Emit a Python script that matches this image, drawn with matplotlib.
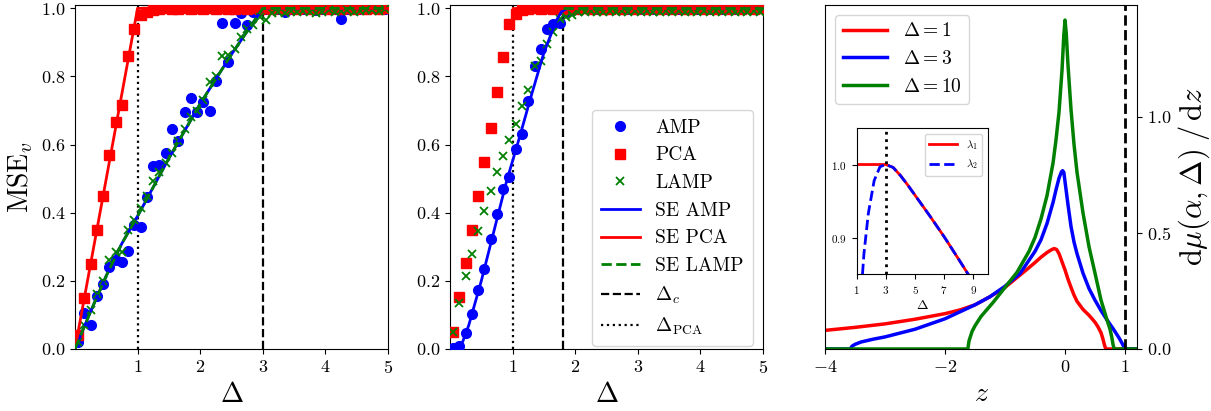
import matplotlib

matplotlib.use("Agg")
import matplotlib.pyplot as plt

plt.rcParams["font.family"] = "serif"
plt.rcParams["font.serif"] = ["cmr10", "DejaVu Serif"]
plt.rcParams["mathtext.fontset"] = "cm"
plt.rcParams["axes.formatter.use_mathtext"] = True

# noise grid shared by all finite-size experiments
DELTA = [0.05, 0.15, 0.25, 0.35, 0.45, 0.55, 0.65, 0.75, 0.85, 0.95,
         1.05, 1.15, 1.25, 1.35, 1.45, 1.55, 1.65, 1.75, 1.85, 1.95,
         2.05, 2.15, 2.25, 2.35, 2.45, 2.55, 2.65, 2.75, 2.85, 2.95,
         3.05, 3.15, 3.25, 3.35, 3.45, 3.55, 3.65, 3.75, 3.85, 3.95,
         4.05, 4.15, 4.25, 4.35, 4.45, 4.55, 4.65, 4.75, 4.85, 4.95]

# left panel
AMP_L = [0.02, 0.105, 0.07, 0.155, 0.19, 0.242, 0.262, 0.254, 0.289, 0.364,
         0.357, 0.447, 0.537, 0.54, 0.575, 0.645, 0.612, 0.696, 0.736, 0.696,
         0.726, 0.698, 0.788, 0.958, 0.843, 0.958, 0.987, 0.951, 0.99, 0.995,
         0.998, 0.997, 0.999, 0.99, 0.998, 1.0, 0.999, 0.998, 0.996, 0.999,
         1.0, 0.998, 0.969, 0.999, 1.0, 0.998, 0.999, 1.0, 0.999, 0.998]
PCA_L = [0.04, 0.15, 0.25, 0.35, 0.45, 0.57, 0.665, 0.715, 0.86, 0.94,
         0.98, 0.99, 0.995, 0.997, 1.0, 0.999, 0.998, 1.0, 0.999, 1.0,
         0.998, 1.0, 0.999, 1.0, 0.998, 0.999, 1.0, 0.999, 1.0, 0.998,
         1.0, 0.999, 1.0, 0.998, 1.0, 0.999, 1.0, 0.999, 0.998, 1.0,
         0.999, 1.0, 0.998, 1.0, 0.999, 1.0, 0.999, 1.0, 0.998, 1.0]
LAMP_L = [0.02, 0.07, 0.115, 0.16, 0.2, 0.26, 0.285, 0.285, 0.35, 0.38,
          0.415, 0.448, 0.492, 0.52, 0.545, 0.575, 0.612, 0.645, 0.68, 0.70,
          0.73, 0.785, 0.80, 0.86, 0.862, 0.88, 0.917, 0.94, 0.95, 0.975,
          0.965, 0.985, 0.99, 0.985, 0.992, 0.99, 0.993, 0.988, 0.985, 0.988,
          0.995, 0.99, 0.993, 0.995, 0.99, 0.993, 0.996, 0.995, 0.993, 0.997]
SE_AMP_L_X = [0.0, 0.25, 0.5, 0.75, 1.0, 1.5, 2.0, 2.5, 3.0, 5.0]
SE_AMP_L_Y = [0.0, 0.11, 0.215, 0.31, 0.39, 0.56, 0.72, 0.865, 1.0, 1.0]
SE_PCA_L_X = [0.0, 1.0, 5.0]
SE_PCA_L_Y = [0.0, 1.0, 1.0]
DC_L, DPCA = 3.0, 1.0

# middle panel
AMP_M = [0.003, 0.008, 0.047, 0.104, 0.174, 0.234, 0.323, 0.396, 0.47, 0.504,
         0.586, 0.63, 0.727, 0.832, 0.881, 0.938, 0.953, 0.956, 0.99, 0.995,
         0.998, 1.0, 0.999, 0.998, 1.0, 0.999, 1.0, 0.998, 0.999, 1.0,
         0.999, 1.0, 0.998, 1.0, 0.999, 1.0, 0.998, 0.999, 1.0, 0.999,
         1.0, 0.998, 1.0, 0.999, 1.0, 0.999, 0.998, 1.0, 0.999, 1.0]
PCA_M = [0.05, 0.152, 0.252, 0.35, 0.45, 0.548, 0.65, 0.754, 0.856, 0.954,
         0.983, 0.995, 0.998, 1.0, 0.999, 1.0, 0.998, 1.0, 0.999, 1.0,
         0.998, 1.0, 0.999, 1.0, 0.998, 0.999, 1.0, 0.999, 1.0, 0.998,
         1.0, 0.999, 1.0, 0.998, 1.0, 0.999, 1.0, 0.999, 0.998, 1.0,
         0.999, 1.0, 0.998, 1.0, 0.999, 1.0, 0.999, 1.0, 0.998, 1.0]
LAMP_M = [0.05, 0.135, 0.213, 0.28, 0.345, 0.405, 0.463, 0.52, 0.567, 0.613,
          0.66, 0.712, 0.76, 0.83, 0.845, 0.894, 0.93, 0.97, 0.975, 0.98,
          0.988, 0.99, 0.992, 0.99, 0.989, 0.991, 0.99, 0.992, 0.99, 0.991,
          0.99, 0.992, 0.99, 0.989, 0.991, 0.99, 0.992, 0.99, 0.991, 0.99,
          0.992, 0.99, 0.991, 0.99, 0.992, 0.99, 0.991, 0.99, 0.992, 0.99]
SE_AMP_M_X = [0.0, 0.1, 0.2, 0.3, 0.5, 0.7, 0.9, 1.1, 1.3, 1.5, 1.7, 1.78, 1.85, 1.9, 2.0, 5.0]
SE_AMP_M_Y = [0.0, 0.0, 0.02, 0.07, 0.2, 0.345, 0.49, 0.615, 0.745, 0.87, 0.965, 0.99, 0.998, 1.0, 1.0, 1.0]
SE_PCA_M_X = [1.0, 5.0]
SE_PCA_M_Y = [1.0, 1.0]
SE_LAMP_M_X = [1.8, 5.0]
SE_LAMP_M_Y = [1.0, 1.0]
DC_M = 1.8

# right panel: spectral densities
Z_D1 = [-4.0, -3.5, -3.0, -2.5, -2.0, -1.75, -1.5, -1.25, -1.0, -0.75, -0.6, -0.5, -0.4,
        -0.3, -0.22, -0.18, -0.14, -0.1, -0.05, 0.0, 0.05, 0.1, 0.15, 0.2, 0.3, 0.4, 0.5,
        0.55, 0.6, 0.63, 0.66, 0.68, 1.2]
MU_D1 = [0.08, 0.093, 0.108, 0.128, 0.152, 0.168, 0.19, 0.225, 0.265, 0.318, 0.35, 0.372, 0.395,
         0.415, 0.428, 0.432, 0.428, 0.41, 0.375, 0.34, 0.3, 0.265, 0.232, 0.205, 0.17, 0.145, 0.115,
         0.095, 0.07, 0.045, 0.015, 0.0, 0.0]
Z_D3 = [-4.0, -3.58, -3.55, -3.5, -3.4, -3.2, -3.0, -2.5, -2.0, -1.5, -1.25, -1.0, -0.75, -0.5,
        -0.4, -0.3, -0.2, -0.15, -0.1, -0.06, -0.04, -0.02, 0.0, 0.05, 0.1, 0.15, 0.2, 0.3, 0.4,
        0.5, 0.6, 0.7, 0.8, 0.9, 0.95, 0.99, 1.0, 1.2]
MU_D3 = [0.0, 0.0, 0.012, 0.02, 0.03, 0.042, 0.052, 0.085, 0.13, 0.19, 0.225, 0.27, 0.325, 0.42,
         0.47, 0.54, 0.63, 0.685, 0.735, 0.762, 0.767, 0.76, 0.72, 0.62, 0.527, 0.46, 0.41, 0.326, 0.26,
         0.21, 0.165, 0.125, 0.088, 0.048, 0.025, 0.005, 0.0, 0.0]
Z_D10 = [-4.0, -1.62, -1.6, -1.55, -1.5, -1.4, -1.2, -1.0, -0.8, -0.6, -0.5, -0.4, -0.3, -0.2,
         -0.15, -0.1, -0.05, -0.02, 0.0, 0.02, 0.05, 0.1, 0.15, 0.2, 0.3, 0.4, 0.5, 0.6, 0.7,
         0.75, 0.78, 0.8, 0.82, 1.2]
MU_D10 = [0.0, 0.0, 0.035, 0.075, 0.1, 0.14, 0.2, 0.265, 0.33, 0.42, 0.48, 0.56, 0.66, 0.80,
          0.9, 1.02, 1.2, 1.35, 1.415, 1.36, 1.22, 1.03, 0.88, 0.76, 0.585, 0.44, 0.326, 0.21, 0.125,
          0.085, 0.05, 0.02, 0.0, 0.0]
Z_EDGE = 1.0

# inset: top eigenvalues
LAM1_X = [1.0, 2.0, 3.0, 3.5, 4.0, 4.5, 5.0, 6.0, 7.0, 8.0, 8.7]
LAM1_Y = [1.0, 1.0, 1.0, 0.996, 0.985, 0.972, 0.958, 0.93, 0.901, 0.87, 0.848]
LAM2_X = [1.4, 1.5, 1.8, 2.2, 2.6, 3.0, 3.5, 4.0, 4.5, 5.0, 6.0, 7.0, 8.0, 8.7]
LAM2_Y = [0.85, 0.878, 0.933, 0.978, 0.997, 1.0, 0.996, 0.985, 0.972, 0.958, 0.93, 0.901, 0.87, 0.848]
DELTA_STAR = 3.0

fig = plt.figure(figsize=(12.11, 4.11), dpi=100)
ax1 = fig.add_axes([0.0619, 0.1509, 0.2585, 0.837])
ax2 = fig.add_axes([0.3716, 0.1509, 0.2585, 0.837])
ax3 = fig.add_axes([0.6813, 0.1509, 0.2576, 0.837])
ins = fig.add_axes([0.7074, 0.3333, 0.1084, 0.3552])


def scatter_panel(ax, amp, pca, lamp):
    ax.plot(DELTA, amp, "o", color="blue", ms=7, label="AMP", zorder=3)
    ax.plot(DELTA, pca, "s", color="red", ms=7.5, label="PCA", zorder=3)
    ax.plot(DELTA, lamp, "x", color="green", ms=6, mew=1.3, label="LAMP", zorder=3)


scatter_panel(ax1, AMP_L, PCA_L, LAMP_L)
ax1.plot(SE_AMP_L_X, SE_AMP_L_Y, "-", color="blue", lw=2, zorder=4)
ax1.plot(SE_PCA_L_X, SE_PCA_L_Y, "-", color="red", lw=2, zorder=4)
ax1.plot(SE_AMP_L_X, SE_AMP_L_Y, "--", color="green", lw=2, zorder=4)
ax1.axvline(DC_L, color="black", ls="--", lw=1.6)
ax1.axvline(DPCA, color="black", ls=":", lw=1.6)
ax1.set_ylabel(r"$\mathrm{MSE}_v$", fontsize=20)

scatter_panel(ax2, AMP_M, PCA_M, LAMP_M)
ax2.plot(SE_AMP_M_X, SE_AMP_M_Y, "-", color="blue", lw=2, zorder=4, label="SE AMP")
ax2.plot(SE_PCA_M_X, SE_PCA_M_Y, "-", color="red", lw=2, zorder=4, label="SE PCA")
ax2.plot(SE_LAMP_M_X, SE_LAMP_M_Y, "--", color="green", lw=2, zorder=4, label="SE LAMP")
ax2.axvline(DC_M, color="black", ls="--", lw=1.6, label=r"$\Delta_c$")
ax2.axvline(DPCA, color="black", ls=":", lw=1.6, label=r"$\Delta_{\rm PCA}$")
ax2.legend(loc="lower right", bbox_to_anchor=(0.967, 0.009), borderaxespad=0,
           fontsize=14, handlelength=2.0, borderpad=0.45, labelspacing=0.5)

for ax in (ax1, ax2):
    ax.set_xlim(0, 5)
    ax.set_ylim(0, 1.01)
    ax.set_xticks([1, 2, 3, 4, 5])
    ax.set_yticks([0.0, 0.2, 0.4, 0.6, 0.8, 1.0])
    ax.tick_params(labelsize=13)
    ax.set_xlabel(r"$\Delta$", fontsize=20)

ax3.plot(Z_D1, MU_D1, color="red", lw=2.5, label=r"$\Delta=1$")
ax3.plot(Z_D3, MU_D3, color="blue", lw=2.5, label=r"$\Delta=3$")
ax3.plot(Z_D10, MU_D10, color="green", lw=2.5, label=r"$\Delta=10$")
ax3.axvline(Z_EDGE, color="black", ls="--", lw=2)
ax3.set_xlim(-4, 1.2)
ax3.set_ylim(0, 1.48)
ax3.set_xticks([-4, -2, 0, 1])
ax3.set_yticks([0.0, 0.5, 1.0])
ax3.yaxis.tick_right()
ax3.yaxis.set_label_position("right")
ax3.tick_params(labelsize=13)
ax3.set_xlabel(r"$z$", fontsize=20)
ax3.set_ylabel(r"$\mathrm{d}\mu(\alpha,\Delta)\;/\,\mathrm{d}z$", fontsize=22)
ax3.legend(loc="upper left", fontsize=14, handlelength=2.3)

ins.plot(LAM1_X, LAM1_Y, color="red", lw=2, label=r"$\lambda_1$")
ins.plot(LAM2_X, LAM2_Y, "--", color="blue", lw=2, label=r"$\lambda_2$")
ins.axvline(DELTA_STAR, color="black", ls=":", lw=2)
ins.set_xlim(1, 10)
ins.set_ylim(0.85, 1.05)
ins.set_xticks([1, 3, 5, 7, 9])
ins.set_yticks([0.9, 1.0])
ins.tick_params(labelsize=8)
ins.set_xlabel(r"$\Delta$", fontsize=10, labelpad=2)
ins.legend(loc="upper right", fontsize=8, handlelength=2.5)

fig.savefig("out.png", dpi=100)
